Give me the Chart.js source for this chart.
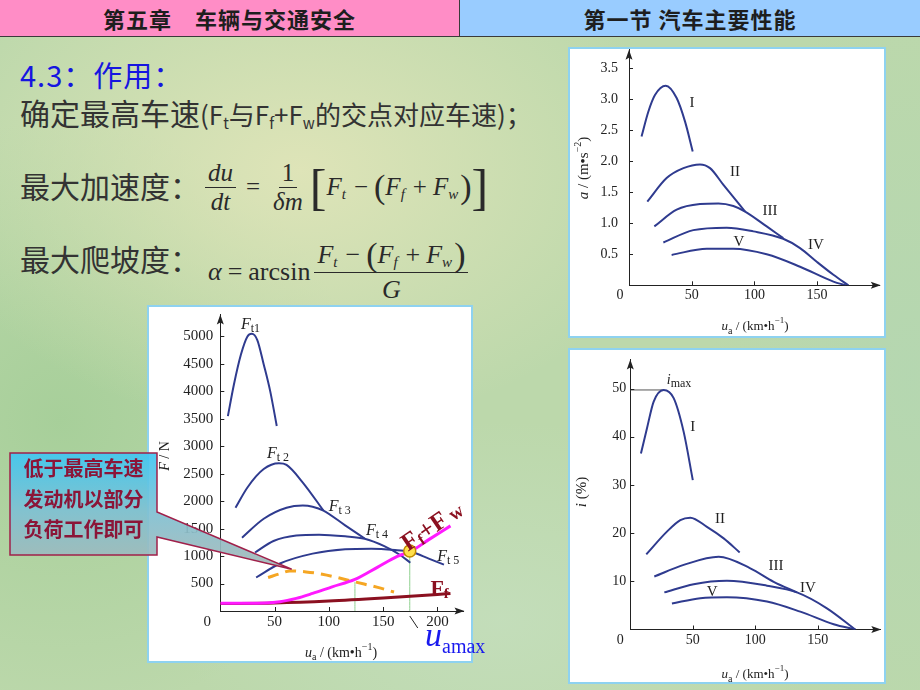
<!DOCTYPE html>
<html>
<head>
<meta charset="utf-8">
<title>第一节 汽车主要性能</title>
<script src="https://cdn.jsdelivr.net/npm/chart.js"></script>
<style>
  body {
    margin: 0; width: 920px; height: 690px; position: relative; overflow: hidden;
    font-family: "Noto Sans CJK SC", sans-serif;
    background:
      radial-gradient(ellipse 380px 260px at 300px 170px, rgba(228,230,186,0.85), rgba(228,230,186,0)),
      radial-gradient(ellipse 300px 300px at 60px 420px, rgba(150,200,140,0.55), rgba(150,200,140,0)),
      radial-gradient(ellipse 320px 200px at 500px 620px, rgba(200,225,196,0.6), rgba(200,225,196,0)),
      radial-gradient(ellipse 200px 400px at 910px 380px, rgba(176,214,180,0.6), rgba(176,214,180,0)),
      #bcd8ab;
  }
  .hdr { position: absolute; top: 0; height: 37px; box-sizing: border-box; border-bottom: 1px solid #3a3a3a;
         text-align: center; line-height: 36px; font-size: 22px; font-weight: bold; color: #1e1e1e; letter-spacing: 1px; }
  .txt { position: absolute; line-height: 32px; white-space: nowrap; color: #333; font-size: 30px; }
  .txt sub { font-size: 15px; vertical-align: -4px; }
  .panel { position: absolute; background: #fff; border: 2px solid #8ed2f0; box-sizing: border-box; z-index: 1; }
  canvas { position: absolute; z-index: 2; }
  .fm { position: absolute; display: flex; align-items: center; font-family: "Liberation Serif", serif;
        font-size: 25px; color: #2a2a2a; white-space: nowrap; }
  .fm .s { font-size: 15px; font-style: italic; position: relative; top: 7px; margin-right: 2px; }
  .frac { display: inline-flex; flex-direction: column; align-items: center; margin: 0 4px; }
  .frac > span { line-height: 28px; padding: 0 3px; display: flex; align-items: center; }
  .frac > span:first-child { border-bottom: 1px solid #2a2a2a; }
  .frac.tall > span { line-height: 34px; }
  .op { margin: 0 6px; }
  .bk { font-size: 50px; line-height: 50px; }
  .pr { font-size: 34px; line-height: 34px; }
  .note { position: absolute; left: 10px; top: 453px; width: 147px; text-align: center; z-index: 6;
          font-size: 20px; line-height: 30.5px; font-weight: bold; color: #8b1538; }
  #uamax { position: absolute; left: 425px; top: 618px; line-height: 34px; z-index: 6; color: #1a1aee;
           font-family: "Liberation Serif", serif; white-space: nowrap; }
</style>
</head>
<body>
<div class="hdr" style="left:0; width:460px; background:#ff8dc6; border-right:1px solid #3a3a3a;">第五章　车辆与交通安全</div>
<div class="hdr" style="left:460px; width:460px; background:#99ccff;">第一节 汽车主要性能</div>

<div class="txt" style="left:20px; top:58px; color:#1515e0; font-size:29px; letter-spacing:1px;">4.3：作用：</div>
<div class="txt" style="left:20px; top:96px;">确定最高车速<span style="font-size:26px">(F<sub>t</sub>与F<sub>f</sub>+F<sub>w</sub>的交点对应车速)；</span></div>
<div class="txt" style="left:20px; top:169px;">最大加速度：</div>
<div class="txt" style="left:20px; top:242px;">最大爬坡度：</div>

<div class="fm" style="left:201px; top:159px; height:56px;">
  <span class="frac"><span><i>du</i></span><span><i>dt</i></span></span>
  <span class="op">=</span>
  <span class="frac"><span>1</span><span><i>δm</i></span></span>
  <span class="bk">[</span><i>F</i><span class="s">t</span><span class="op">−</span><span class="pr">(</span><i>F</i><span class="s">f</span><span class="op">+</span><i>F</i><span class="s">w</span><span class="pr">)</span><span class="bk">]</span>
</div>
<div class="fm" style="left:208px; top:238px; height:68px; font-size:26px;">
  <i>α</i><span class="op">=</span><span>arcsin</span>
  <span class="frac tall"><span><i>F</i><span class="s">t</span><span class="op">−</span><span class="pr">(</span><i>F</i><span class="s">f</span><span class="op">+</span><i>F</i><span class="s">w</span><span class="pr">)</span></span><span><i>G</i></span></span>
</div>

<div class="panel" style="left:147px; top:305px; width:326px; height:358px;"></div>
<div class="panel" style="left:568px; top:47px; width:318px; height:291px;"></div>
<div class="panel" style="left:568px; top:348px; width:318px; height:336px;"></div>

<canvas id="force" width="322" height="354" style="left:149px; top:307px;"></canvas>
<canvas id="accel" width="314" height="287" style="left:570px; top:49px;"></canvas>
<canvas id="grade" width="314" height="332" style="left:570px; top:350px;"></canvas>

<svg width="920" height="690" style="position:absolute; left:0; top:0; z-index:5; pointer-events:none;">
  <defs>
    <linearGradient id="cg" gradientUnits="userSpaceOnUse" x1="0" y1="453" x2="0" y2="570">
      <stop offset="0" stop-color="#3fc6f2"/>
      <stop offset="0.5" stop-color="#7fc0d2"/>
      <stop offset="1" stop-color="#a6b8b6"/>
    </linearGradient>
  </defs>
  <path d="M10,453 H157 V512 L291.7,569.3 L157,537 V555 H10 Z" fill="url(#cg)" fill-opacity="0.92"
        stroke="#a0204a" stroke-width="1.5"/>
</svg>
<div class="note">低于最高车速<br>发动机以部分<br>负荷工作即可</div>
<div id="uamax"><i style="font-size:34px">u</i><span style="font-size:20px; vertical-align:-7px">amax</span></div>

<script>
// ---- 驱动力-行驶阻力平衡图 (u in km/h, F in N)
const uFt1 = [7, 12.5, 19, 25, 29, 34, 40, 46, 52];
const Ft1  = [3550, 4120, 4670, 5000, 5050, 4940, 4490, 4000, 3370];
const uFt2 = [14, 25, 40, 54, 61, 76, 95];
const Ft2  = [1880, 2250, 2585, 2690, 2660, 2340, 1830];
const uFt3 = [20, 40, 61, 76, 85, 95, 115, 133];
const Ft3  = [1335, 1680, 1880, 1920, 1900, 1830, 1560, 1320];
const uFt4 = [32, 49, 70, 91, 115, 133, 151, 166, 175];
const Ft4  = [1065, 1275, 1375, 1390, 1360, 1315, 1180, 1015, 880];
const uFt5 = [33, 55, 85, 115, 139, 163, 176, 192, 206];
const Ft5  = [610, 865, 1045, 1125, 1135, 1105, 1075, 955, 845];
const uFfw = [0, 25, 55, 70, 85, 103, 124, 145, 163, 176, 192, 212];
const Ffw  = [140, 140, 170, 230, 320, 440, 575, 800, 995, 1093, 1300, 1550];
const uFf  = [0, 50, 100, 150, 200, 212];
const Ff   = [135, 145, 180, 235, 300, 320];
const uPart = [44, 55, 64, 79, 94, 115, 124, 145, 160];
const Fpart = [610, 680, 730, 712, 670, 575, 530, 430, 345];
const uCross = [124, 174.5];      // 两条竖线
const FCross = [530, 1093];
const forceTicks = [500, 1000, 1500, 2000, 2500, 3000, 3500, 4000, 4500, 5000];

// ---- 加速度曲线 (a in m/s^2)
const aIu = [10, 15.4, 20.7, 29.3, 38, 44.7, 50.8];
const aI  = [2.40, 2.80, 3.07, 3.22, 3.02, 2.64, 2.16];
const aIIu = [14.6, 30, 43.4, 56.6, 64.6, 75.3, 92.6];
const aII  = [1.35, 1.73, 1.89, 1.95, 1.89, 1.62, 1.19];
const aIIIu = [20.2, 38, 56.6, 71.3, 83.2, 92.6, 109.8, 123];
const aIII  = [0.95, 1.22, 1.31, 1.32, 1.28, 1.19, 0.95, 0.76];
const aIVu = [27.4, 51.3, 77.9, 99.2, 123, 136.4, 149.7, 163, 175];
const aIV  = [0.69, 0.89, 0.93, 0.87, 0.75, 0.60, 0.38, 0.17, 0];
const aVu = [34, 62, 83.2, 109.8, 136.4, 163, 173];
const aV  = [0.49, 0.59, 0.59, 0.50, 0.30, 0.06, 0];
const accelTicks = [0.5, 1.0, 1.5, 2.0, 2.5, 3.0, 3.5];

// ---- 爬坡度曲线 (i in %)
const iIu = [8.5, 13.3, 18.7, 26.7, 34.7, 42.7, 50];
const iI  = [36.5, 41.7, 47.3, 49.7, 48.0, 41.0, 31.0];
const iIIu = [12.8, 29.3, 40, 48, 61.3, 74.7, 87.5];
const iII  = [15.6, 20.3, 22.7, 23.2, 21.3, 18.9, 16.0];
const iIIIu = [19.2, 42.7, 70.7, 96, 114.7, 133.3];
const iIII  = [11.0, 13.4, 15.1, 12.7, 9.9, 7.7];
const iIVu = [27.2, 50.7, 77.3, 109.3, 133.3, 157.3, 180];
const iIV  = [7.7, 9.4, 10.1, 9.1, 7.7, 4.4, 0];
const iVu = [33.3, 56, 77.3, 109.3, 136, 162.7, 180];
const iV  = [5.4, 6.5, 6.7, 5.8, 3.7, 1.1, 0];
const iMaxU = [0, 26.7];
const iMax  = [49.7, 49.7];
const gradeTicks = [10, 20, 30, 40, 50];
const speedTicks = [50, 100, 150, 200];

const SERIF = '"Liberation Serif", serif';
const fnt = (size, style) => (style || '') + ' ' + size + 'px ' + SERIF;
const BLUE = '#2f3b8f';
const DARKRED = '#8b1020';

function pts(us, vs) { return us.map((u, i) => ({ x: u, y: vs[i] })); }
function curve(us, vs, color, width, extra) {
    return Object.assign({ data: pts(us, vs), borderColor: color, borderWidth: width, pointRadius: 0,
        fill: false, cubicInterpolationMode: 'monotone' }, extra || {});
}

// 多段文字 (下标/上标)
function rich(ctx, x, y, parts, color) {
    let w = 0;
    parts.forEach(p => { ctx.font = p[1]; w += ctx.measureText(p[0]).width; });
    let cx = x - w / 2;
    ctx.fillStyle = color; ctx.textAlign = 'left'; ctx.textBaseline = 'middle';
    parts.forEach(p => { ctx.font = p[1]; ctx.fillText(p[0], cx, y + (p[2] || 0)); cx += ctx.measureText(p[0]).width; });
}

function deco(cfg) {
    return {
        id: 'deco',
        afterDraw(chart) {
            const ctx = chart.ctx, a = chart.chartArea, xs = chart.scales.x, ys = chart.scales.y;
            ctx.save();
            ctx.strokeStyle = '#222'; ctx.fillStyle = '#222'; ctx.lineWidth = 1;
            ctx.beginPath();
            xs.ticks.forEach(t => { const p = Math.round(xs.getPixelForValue(t.value)) + 0.5; ctx.moveTo(p, a.bottom); ctx.lineTo(p, a.bottom - 4); });
            ys.ticks.forEach(t => { const p = Math.round(ys.getPixelForValue(t.value)) + 0.5; ctx.moveTo(a.left, p); ctx.lineTo(a.left + 4, p); });
            ctx.stroke();
            // 箭头
            ctx.beginPath();
            ctx.moveTo(a.right + 1, a.bottom); ctx.lineTo(a.right - 9, a.bottom - 3.5); ctx.lineTo(a.right - 7, a.bottom); ctx.lineTo(a.right - 9, a.bottom + 3.5); ctx.closePath();
            ctx.moveTo(a.left, a.top); ctx.lineTo(a.left - 3.5, a.top + 10); ctx.lineTo(a.left, a.top + 8); ctx.lineTo(a.left + 3.5, a.top + 10); ctx.closePath();
            ctx.fill();
            ctx.font = fnt(cfg.fs); ctx.textAlign = 'center'; ctx.textBaseline = 'middle';
            ctx.fillText('0', a.left - cfg.zeroDx, a.bottom + cfg.zeroDy);
            if (cfg.extra) cfg.extra(chart, ctx);
            cfg.notes.forEach(n => {
                ctx.save();
                ctx.translate(xs.getPixelForValue(n.x), ys.getPixelForValue(n.y));
                if (n.rot) ctx.rotate(n.rot);
                rich(ctx, 0, 0, n.parts, n.color || '#222');
                ctx.restore();
            });
            cfg.titles.forEach(t => {
                ctx.save(); ctx.translate(t.x, t.y);
                if (t.rot) ctx.rotate(t.rot);
                rich(ctx, 0, 0, t.parts, '#222');
                ctx.restore();
            });
            ctx.restore();
        }
    };
}

function options(o) {
    return {
        responsive: false, animation: false,
        layout: { padding: { top: o.padTop, right: o.padRight, left: 0, bottom: 0 } },
        plugins: { legend: { display: false }, tooltip: { enabled: false } },
        scales: {
            x: {
                type: 'linear', min: 0, max: o.xMax,
                afterBuildTicks: s => { s.ticks = speedTicks.filter(v => v <= o.xLast).map(v => ({ value: v })); },
                afterFit: s => { s.height = o.xH; s.paddingLeft = 0; s.paddingRight = 0; },
                grid: { display: false, drawTicks: false },
                border: { display: true, color: '#222', width: 1 },
                ticks: { padding: o.xPad, color: '#222', font: { family: SERIF, size: o.fs }, maxRotation: 0, autoSkip: false }
            },
            y: {
                type: 'linear', min: 0, max: o.yMax,
                afterBuildTicks: s => { s.ticks = o.yTicks.map(v => ({ value: v })); },
                afterFit: s => { s.width = o.yW; s.paddingTop = 0; s.paddingBottom = 0; },
                grid: { display: false, drawTicks: false },
                border: { display: true, color: '#222', width: 1 },
                ticks: { padding: o.yPad, color: '#222', font: { family: SERIF, size: o.fs }, autoSkip: false, callback: o.yFmt }
            }
        }
    };
}

const ua = [['u', fnt(14, 'italic')], ['a', fnt(10), 4], [' / (km•h', fnt(14)], ['−1', fnt(10), -6], [')', fnt(14)]];
const ua13 = [['u', fnt(13, 'italic')], ['a', fnt(10), 4], [' / (km•h', fnt(13)], ['−1', fnt(9), -6], [')', fnt(13)]];
const ftLabel = s => [['F', fnt(16, 'italic')], [s, fnt(12), 4]];
const roman = s => [[s, fnt(15)]];

// ---- 图 1
new Chart(document.getElementById('force'), {
    type: 'line',
    data: {
        datasets: [
            { type: 'scatter', data: pts([uCross[1]], [FCross[1]]), pointRadius: 6, pointBackgroundColor: '#ffe04a', pointBorderColor: '#c08a00', pointBorderWidth: 1.5 },
            curve(uFfw, Ffw, '#ff1aff', 3),
            curve(uFf, Ff, DARKRED, 3),
            curve(uPart, Fpart, '#f5a623', 3, { borderDash: [11, 7] }),
            curve(uFt1, Ft1, BLUE, 2),
            curve(uFt2, Ft2, BLUE, 2),
            curve(uFt3, Ft3, BLUE, 2),
            curve(uFt4, Ft4, BLUE, 2),
            curve(uFt5, Ft5, BLUE, 2),
            curve([uCross[0], uCross[0]], [0, FCross[0]], '#8fd08f', 1),
            curve([uCross[1], uCross[1]], [0, FCross[1]], '#8fd08f', 1)
        ]
    },
    options: options({ padTop: 6, padRight: 0.8, xMax: 224, xLast: 200, xH: 50, xPad: 2, yMax: 5400, yW: 71.3, yPad: 7, fs: 15, yTicks: forceTicks, yFmt: v => String(v) }),
    plugins: [deco({
        fs: 15, zeroDx: 13, zeroDy: 11,
        extra: (chart, ctx) => {
            const px = chart.scales.x.getPixelForValue(uCross[1]), b = chart.chartArea.bottom;
            ctx.beginPath(); ctx.moveTo(px, b + 5); ctx.lineTo(px + 8, b + 17); ctx.stroke();
        },
        notes: [
            { x: 27.8, y: 5213, parts: ftLabel('t1') },
            { x: 53.2, y: 2857, parts: ftLabel('t 2') },
            { x: 110, y: 1890, parts: ftLabel('t 3') },
            { x: 144.3, y: 1468, parts: ftLabel('t 4') },
            { x: 210, y: 984, parts: ftLabel('t 5') },
            { x: 195.7, y: 1527, rot: -0.6, color: DARKRED,
              parts: [['F', fnt(25, 'bold')], ['f', fnt(16, 'bold'), 5], ['+', fnt(25, 'bold')], ['F', fnt(25, 'bold')], [' w', fnt(19, 'bold'), 2]] },
            { x: 202, y: 393, color: DARKRED, parts: [['F', fnt(22, 'bold')], ['f', fnt(15, 'bold'), 5]] }
        ],
        titles: [
            { x: 16, y: 149, rot: -Math.PI / 2, parts: [['F', fnt(14, 'italic')], [' / N', fnt(14)]] },
            { x: 192, y: 346, parts: ua }
        ]
    })]
});

// ---- 图 2
new Chart(document.getElementById('accel'), {
    type: 'line',
    data: {
        datasets: [
            curve(aIu, aI, BLUE, 2), curve(aIIu, aII, BLUE, 2), curve(aIIIu, aIII, BLUE, 2),
            curve(aIVu, aIV, BLUE, 2), curve(aVu, aV, BLUE, 2)
        ]
    },
    options: options({ padTop: 0.7, padRight: 4.2, xMax: 200, xLast: 150, xH: 50.7, xPad: 1.5, yMax: 3.8, yW: 59, yPad: 11, fs: 14, yTicks: accelTicks, yFmt: v => v.toFixed(1) }),
    plugins: [deco({
        fs: 14, zeroDx: 9, zeroDy: 9.7,
        notes: [
            { x: 50.2, y: 2.94, parts: roman('I') },
            { x: 84.5, y: 1.83, parts: roman('II') },
            { x: 112.4, y: 1.2, parts: roman('III') },
            { x: 149, y: 0.65, parts: roman('IV') },
            { x: 87.7, y: 0.70, parts: roman('V') }
        ],
        titles: [
            { x: 14, y: 119, rot: -Math.PI / 2, parts: [['a', fnt(15, 'italic')], [' / (m•s', fnt(15)], ['−2', fnt(10), -6], [')', fnt(15)]] },
            { x: 185, y: 278, parts: ua13 }
        ]
    })]
});

// ---- 图 3
new Chart(document.getElementById('grade'), {
    type: 'line',
    data: {
        datasets: [
            curve(iIu, iI, BLUE, 2), curve(iIIu, iII, BLUE, 2), curve(iIIIu, iIII, BLUE, 2),
            curve(iIVu, iIV, BLUE, 2), curve(iVu, iV, BLUE, 2),
            curve(iMaxU, iMax, '#555', 1)
        ]
    },
    options: options({ padTop: 9.6, padRight: 3.7, xMax: 200, xLast: 150, xH: 52.5, xPad: 2, yMax: 56, yW: 60.3, yPad: 4, fs: 14, yTicks: gradeTicks, yFmt: v => String(v) }),
    plugins: [deco({
        fs: 14, zeroDx: 10, zeroDy: 10.5,
        notes: [
            { x: 39, y: 51.6, parts: [['i', fnt(14, 'italic')], ['max', fnt(12), 3]] },
            { x: 50, y: 42, parts: roman('I') },
            { x: 71.8, y: 22.9, parts: roman('II') },
            { x: 116.6, y: 13.2, parts: roman('III') },
            { x: 142, y: 8.6, parts: roman('IV') },
            { x: 65.4, y: 7.8, parts: roman('V') }
        ],
        titles: [
            { x: 12, y: 142, rot: -Math.PI / 2, parts: [['i', fnt(15, 'italic')], [' (%)', fnt(15)]] },
            { x: 185, y: 325, parts: ua13 }
        ]
    })]
});
</script>
</body>
</html>
